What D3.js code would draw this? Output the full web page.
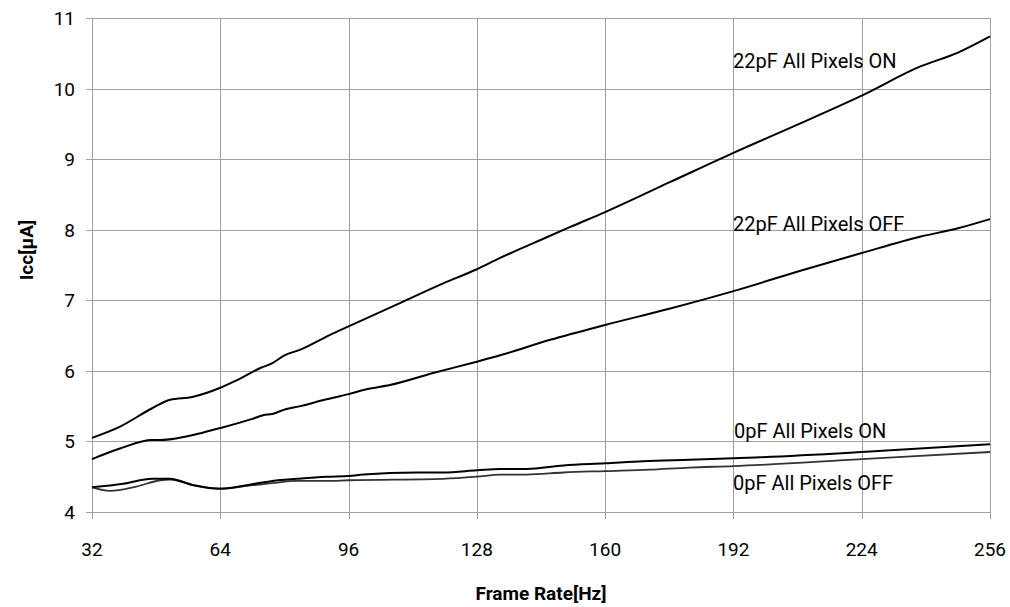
<!DOCTYPE html>
<html><head><meta charset="utf-8">
<script src="https://cdn.jsdelivr.net/npm/d3@7"></script>
<style>body{margin:0;background:#fff}svg{display:block}</style>
</head><body>
<svg id="c" width="1010" height="607"></svg>
<script>
const xTicks = [32, 64, 96, 128, 160, 192, 224, 256];
const yTicks = [4, 5, 6, 7, 8, 9, 10, 11];

const on22Freq = [32, 39, 47, 51.5, 57, 64, 67.5, 74, 77, 80, 84, 91.4, 96, 108.8, 119.6, 128, 133.8, 142.1, 151.3, 160, 176, 192, 208, 224, 238.5, 248, 256];
const on22Val  = [5.05, 5.21, 5.47, 5.59, 5.63, 5.76, 5.85, 6.04, 6.11, 6.22, 6.30, 6.51, 6.63, 6.96, 7.24, 7.44, 7.60, 7.81, 8.04, 8.25, 8.67, 9.09, 9.49, 9.90, 10.31, 10.51, 10.74];

const off22Freq = [32, 39, 47, 49, 60, 64, 72, 74.7, 77, 80.5, 84, 90, 96, 100.5, 106.3, 117.1, 128, 133.8, 146.3, 160, 176, 192, 210, 224, 238.5, 248, 256];
const off22Val  = [4.75, 4.90, 5.02, 5.02, 5.13, 5.19, 5.32, 5.37, 5.39, 5.46, 5.50, 5.59, 5.67, 5.74, 5.80, 5.97, 6.13, 6.22, 6.44, 6.65, 6.88, 7.13, 7.44, 7.67, 7.90, 8.02, 8.15];

const on0Freq = [32, 39.8, 47, 51.5, 57.3, 64, 70.6, 77, 83, 90.5, 96, 99.7, 113, 119.6, 128, 133.8, 140.4, 149.6, 160, 169.5, 181, 192, 224, 256];
const on0Val  = [4.35, 4.40, 4.47, 4.47, 4.38, 4.33, 4.38, 4.44, 4.47, 4.50, 4.51, 4.53, 4.56, 4.56, 4.59, 4.61, 4.61, 4.66, 4.69, 4.72, 4.74, 4.76, 4.85, 4.96];

const off0Freq = [32, 36.5, 43, 49, 51.5, 57.3, 64, 70.6, 77, 83, 90.5, 96, 119.6, 128, 133.8, 140.4, 149.6, 160, 171, 181, 192, 224, 256];
const off0Val  = [4.35, 4.30, 4.36, 4.45, 4.46, 4.38, 4.33, 4.37, 4.41, 4.44, 4.44, 4.45, 4.47, 4.50, 4.53, 4.53, 4.56, 4.58, 4.60, 4.63, 4.65, 4.75, 4.85];

const seriesNames = ["22pF All Pixels ON", "22pF All Pixels OFF", "0pF All Pixels ON", "0pF All Pixels OFF"];

const svg = d3.select("#c");
const m = {l: 92, r: 990, t: 18, b: 512};
const x = d3.scaleLinear().domain([32, 256]).range([m.l, m.r]);
const y = d3.scaleLinear().domain([4, 11]).range([m.b, m.t]);
const font = "Roboto, 'Liberation Sans', sans-serif";
const grid = "#a0a0a0";

// gridlines
svg.append("g").selectAll("line").data(yTicks).join("line")
  .attr("x1", m.l - 6).attr("x2", m.r).attr("y1", d => Math.round(y(d)) + 0.5).attr("y2", d => Math.round(y(d)) + 0.5)
  .attr("stroke", grid).attr("stroke-width", 1);
svg.append("g").selectAll("line").data(xTicks).join("line")
  .attr("y1", m.t).attr("y2", m.b + 7).attr("x1", d => Math.round(x(d)) + 0.5).attr("x2", d => Math.round(x(d)) + 0.5)
  .attr("stroke", grid).attr("stroke-width", 1);

// tick labels
svg.append("g").selectAll("text").data(yTicks).join("text")
  .attr("x", 75).attr("y", d => y(d) + 7).attr("text-anchor", "end")
  .attr("font-family", font).attr("font-size", 19).attr("fill", "#000").text(d => d);
svg.append("g").selectAll("text").data(xTicks).join("text")
  .attr("x", d => x(d)).attr("y", 556).attr("text-anchor", "middle")
  .attr("font-family", font).attr("font-size", 19).attr("fill", "#000").text(d => d);

// axis titles
svg.append("text").attr("x", (m.l + m.r) / 2).attr("y", 600).attr("text-anchor", "middle")
  .attr("font-family", font).attr("font-weight", "bold").attr("font-size", 19).text("Frame Rate[Hz]");
svg.append("text").attr("transform", "translate(33,250) rotate(-90)").attr("text-anchor", "middle")
  .attr("font-family", font).attr("font-weight", "bold").attr("font-size", 19).text("Icc[μA]");

// lines
const line = d3.line().x(d => x(d[0])).y(d => y(d[1])).curve(d3.curveMonotoneX);
const series = [
  {f: on22Freq, v: on22Val, c: "#000", w: 2},
  {f: off22Freq, v: off22Val, c: "#000", w: 2},
  {f: off0Freq, v: off0Val, c: "#333", w: 1.8},
  {f: on0Freq, v: on0Val, c: "#000", w: 2}
];
series.forEach(s => {
  svg.append("path").datum(s.f.map((f, i) => [f, s.v[i]]))
    .attr("d", line).attr("fill", "none").attr("stroke", s.c).attr("stroke-width", s.w);
});

// labels
const labelPos = [[733, 68], [733, 231], [734, 438], [733, 490]];
svg.append("g").selectAll("text").data(seriesNames).join("text")
  .attr("x", (d, i) => labelPos[i][0]).attr("y", (d, i) => labelPos[i][1])
  .attr("font-family", font).attr("font-size", 20).attr("fill", "#000").text(d => d);
</script>
</body></html>
